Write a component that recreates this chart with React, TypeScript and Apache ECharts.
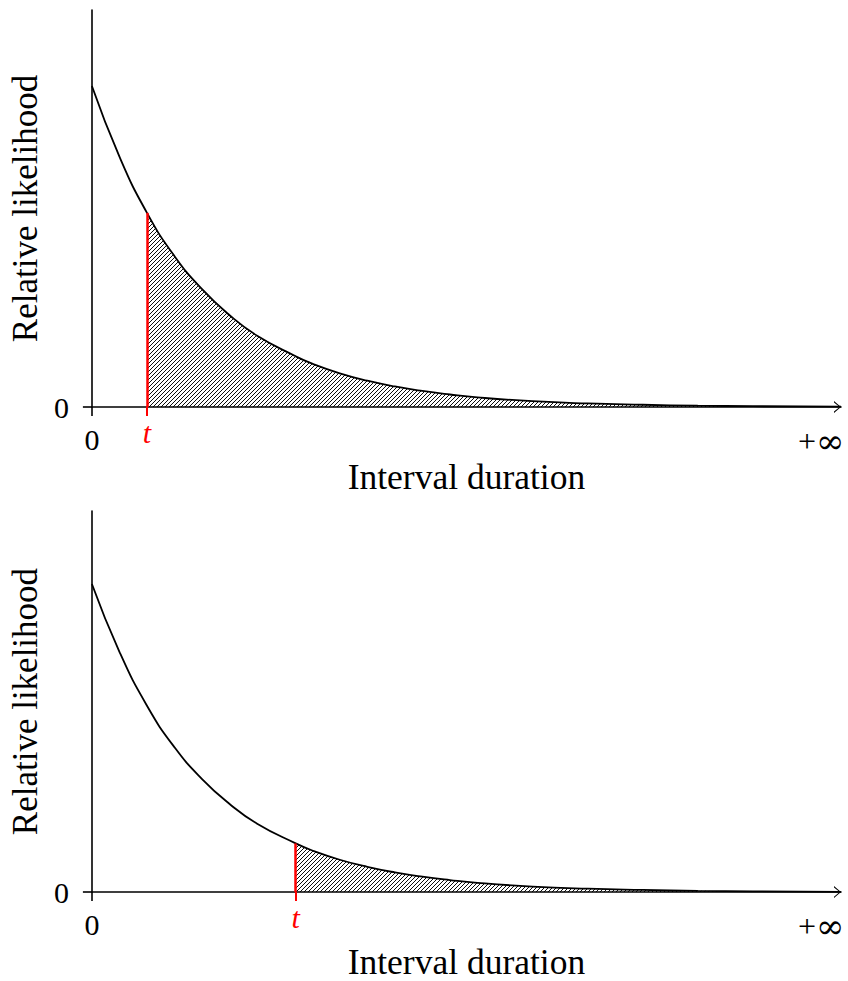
import React, { useEffect, useRef } from "react";
import * as echarts from "echarts";

// Curve (x in axis units, y relative to value at 0)
const curveX = [0, 0.25, 0.5, 0.75, 1.0, 1.25, 1.5, 1.85, 2.0, 2.25, 2.5, 2.75, 3.0, 3.25, 3.5, 4.0, 4.5, 5.0, 5.5, 6.0, 6.8];
const curveY = [1.0, 0.78, 0.605, 0.47, 0.367, 0.286, 0.222, 0.158, 0.135, 0.105, 0.082, 0.064, 0.05, 0.039, 0.03, 0.018, 0.011, 0.007, 0.004, 0.0025, 0.001];

// Threshold t for each panel (top, bottom)
const panelT = [0.5, 1.85];

const xMax = 6.8;
const yMax = 1.237;
const infinityAt = 6.62;

const xAxisName = "Interval duration";
const yAxisName = "Relative likelihood";
const zeroLabel = "0";
const tLabel = "t";

const FONT = "Liberation Serif";

function makeHatch(): HTMLCanvasElement {
  const s = 4;
  const c = document.createElement("canvas");
  c.width = s;
  c.height = s;
  const ctx = c.getContext("2d")!;
  ctx.strokeStyle = "#000";
  ctx.lineWidth = 0.95;
  ctx.beginPath();
  ctx.moveTo(-1, s + 1);
  ctx.lineTo(s + 1, -1);
  ctx.moveTo(-1, 1);
  ctx.lineTo(1, -1);
  ctx.moveTo(s - 1, s + 1);
  ctx.lineTo(s + 1, s - 1);
  ctx.stroke();
  return c;
}

export default function App() {
  const ref = useRef<HTMLDivElement>(null);

  useEffect(() => {
    document.body.style.margin = "0";
    const chart = echarts.init(ref.current!, null, { renderer: "svg" });
    const hatch = makeHatch();
    const curve = curveX.map((x, i) => [x, curveY[i]]);

    const grids: any[] = [];
    const xAxes: any[] = [];
    const yAxes: any[] = [];
    const series: any[] = [];

    panelT.forEach((t, i) => {
      grids.push({ left: 86, width: 755, top: 10 + i * 501, height: 397 });
      xAxes.push({
        type: "value",
        gridIndex: i,
        min: 0,
        max: xMax,
        position: "bottom",
        splitLine: { show: false },
        axisLine: {
          show: true,
          onZero: false,
          lineStyle: { color: "#000", width: 1.6 },
          symbol: ["none", "path://M6,0 L12,7 L10.6,7 L6,1.4 L1.4,7 L0,7 Z"],
          symbolSize: [12, 7],
          symbolOffset: [0, -3.5],
        },
        axisTick: { show: true, customValues: [0], length: 9, lineStyle: { color: "#000", width: 1.6 } },
        axisLabel: {
          show: true,
          customValues: [0, infinityAt],
          formatter: (v: number) => (v === 0 ? zeroLabel : "{p|+}{i|∞}"),
          margin: 17,
          fontFamily: FONT,
          fontSize: 30,
          color: "#000",
          rich: {
            p: { fontFamily: FONT, fontSize: 32, color: "#000" },
            i: { fontFamily: "DejaVu Serif", fontSize: 34, color: "#000" },
          },
        },
        name: xAxisName,
        nameLocation: "middle",
        nameGap: 36,
        nameTextStyle: { fontFamily: FONT, fontSize: 35.5, color: "#000" },
      });
      xAxes.push({
        type: "value",
        gridIndex: i,
        min: 0,
        max: xMax,
        position: "bottom",
        splitLine: { show: false },
        axisLine: { show: false, onZero: false },
        axisTick: { show: true, customValues: [t], length: 9, lineStyle: { color: "#ff0000", width: 2 } },
        axisLabel: {
          show: true,
          customValues: [t],
          formatter: () => tLabel,
          margin: 10,
          fontFamily: FONT,
          fontStyle: "italic",
          fontSize: 30,
          color: "#ff0000",
        },
      });
      yAxes.push({
        type: "value",
        gridIndex: i,
        min: 0,
        max: yMax,
        splitLine: { show: false },
        axisLine: { show: true, onZero: false, lineStyle: { color: "#000", width: 1.6 } },
        axisTick: { show: true, customValues: [0], length: 9, lineStyle: { color: "#000", width: 1.6 } },
        axisLabel: {
          show: true,
          customValues: [0],
          formatter: () => zeroLabel,
          margin: 23,
          fontFamily: FONT,
          fontSize: 30,
          color: "#000",
        },
        name: yAxisName,
        nameLocation: "middle",
        nameGap: 47,
        nameRotate: 90,
        nameTextStyle: { fontFamily: FONT, fontSize: 35, color: "#000" },
      });

      const tail = curve.filter((p) => p[0] >= t);
      const yt = tail[0][1];
      series.push({
        type: "line",
        xAxisIndex: 2 * i,
        yAxisIndex: i,
        data: tail,
        smooth: 0.5,
        symbol: "none",
        lineStyle: { width: 0 },
        areaStyle: { color: { image: hatch, repeat: "repeat" }, opacity: 1 },
        z: 2,
        clip: false,
        markLine: {
          silent: true,
          symbol: "none",
          label: { show: false },
          lineStyle: { color: "#ff0000", width: 2.5, type: "solid" },
          data: [[{ coord: [t, 0] }, { coord: [t, yt] }]],
        },
      });
      series.push({
        type: "line",
        xAxisIndex: 2 * i,
        yAxisIndex: i,
        data: curve,
        smooth: 0.5,
        symbol: "none",
        lineStyle: { color: "#000", width: 1.8 },
        z: 3,
      });
    });

    chart.setOption({
      animation: false,
      backgroundColor: "#fff",
      grid: grids,
      xAxis: xAxes,
      yAxis: yAxes,
      series,
    });
    return () => chart.dispose();
  }, []);

  return <div ref={ref} style={{ width: 848, height: 981 }} />;
}
